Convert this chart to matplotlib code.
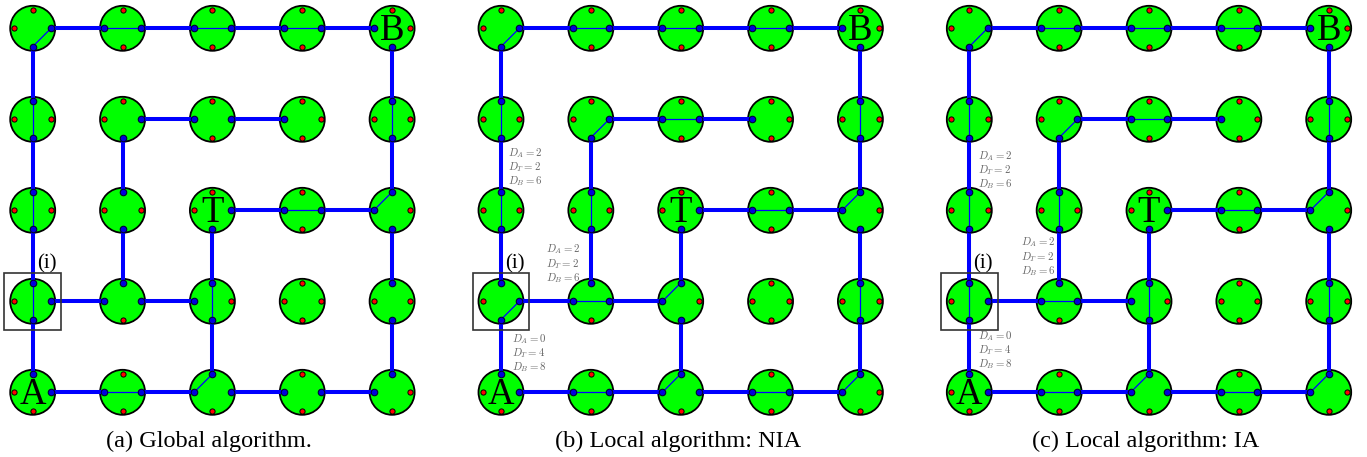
import matplotlib.pyplot as plt
import matplotlib.patches as mpatches

plt.rcParams['mathtext.fontset'] = 'cm'
serif = ['Liberation Serif', 'DejaVu Serif']

# links between neighbouring switches (same in all three panels)
h_links = [(0, 0), (1, 0), (2, 0), (3, 0), (1, 1), (2, 1), (2, 2), (3, 2),
           (0, 3), (1, 3), (0, 4), (1, 4), (2, 4), (3, 4)]          # (c,r) -> (c+1,r)
v_links = [(0, 0), (0, 1), (0, 2), (0, 3), (1, 1), (1, 2), (2, 2), (2, 3),
           (4, 0), (4, 1), (4, 2), (4, 3)]                          # (c,r) -> (c,r+1)

# internal switch settings, one list per panel: (col, row, port, port)
routes_global = [(0, 0, 'S', 'E'), (1, 0, 'W', 'E'), (2, 0, 'W', 'E'), (3, 0, 'W', 'E'),
                 (0, 1, 'N', 'S'), (4, 1, 'N', 'S'), (0, 2, 'N', 'S'), (3, 2, 'W', 'E'),
                 (4, 2, 'N', 'W'), (0, 3, 'N', 'S'), (2, 3, 'N', 'S'), (1, 4, 'W', 'E'),
                 (2, 4, 'W', 'N')]
routes_nia = [(0, 0, 'S', 'E'), (1, 0, 'W', 'E'), (2, 0, 'W', 'E'), (3, 0, 'W', 'E'),
              (0, 1, 'N', 'S'), (1, 1, 'S', 'E'), (2, 1, 'W', 'E'), (4, 1, 'N', 'S'),
              (0, 2, 'N', 'S'), (1, 2, 'N', 'S'), (3, 2, 'W', 'E'), (4, 2, 'N', 'W'),
              (0, 3, 'S', 'E'), (1, 3, 'W', 'E'), (2, 3, 'W', 'N'), (4, 3, 'N', 'S'),
              (1, 4, 'W', 'E'), (2, 4, 'W', 'N'), (3, 4, 'W', 'E'), (4, 4, 'W', 'N')]
routes_ia = [(0, 0, 'S', 'E'), (1, 0, 'W', 'E'), (2, 0, 'W', 'E'), (3, 0, 'W', 'E'),
             (0, 1, 'N', 'S'), (1, 1, 'S', 'E'), (2, 1, 'W', 'E'), (4, 1, 'N', 'S'),
             (0, 2, 'N', 'S'), (1, 2, 'N', 'S'), (3, 2, 'W', 'E'), (4, 2, 'N', 'W'),
             (0, 3, 'N', 'S'), (1, 3, 'W', 'E'), (2, 3, 'N', 'S'), (4, 3, 'N', 'S'),
             (1, 4, 'W', 'E'), (2, 4, 'W', 'N'), (3, 4, 'W', 'E'), (4, 4, 'W', 'N')]

node_letters = ["A", "B", "T"]
letter_nodes = [(0, 4), (4, 0), (2, 2)]
marked_node = (0, 3)

# distance labels (D_A, D_T, D_B) for panels b and c
dist_nia = [(2, 2, 6), (2, 2, 6), (0, 4, 8)]
dist_ia = [(2, 2, 6), (2, 2, 6), (0, 4, 8)]

captions = ["(a) Global algorithm.", "(b) Local algorithm: NIA", "(c) Local algorithm: IA"]

# layout (pixels)
panel_x0 = [32.7, 501.0, 969.3]
y0 = 28.3
dx, dy = 89.85, 91.0
R = 22.5
port = 18.3
off = {'N': (0, -port), 'S': (0, port), 'E': (port, 0), 'W': (-port, 0)}
dist_pos = [None,
            [(6.7, 153), (44.7, 249.5), (11.3, 339)],
            [(8.4, 156), (51.7, 242.5), (9.0, 336)]]

fig = plt.figure(figsize=(13.67, 4.57), dpi=100)
ax = fig.add_axes([0, 0, 1, 1])
ax.set_xlim(0, 1367)
ax.set_ylim(457, 0)
ax.axis('off')


def node_xy(p, c, r):
    return panel_x0[p] + c * dx, y0 + r * dy


def port_xy(p, c, r, d):
    x, y = node_xy(p, c, r)
    return x + off[d][0], y + off[d][1]


all_routes = [routes_global, routes_nia, routes_ia]
all_dist = [None, dist_nia, dist_ia]

for p in range(3):
    used = set()
    for c, r in h_links:
        used.add((c, r, 'E'))
        used.add((c + 1, r, 'W'))
    for c, r in v_links:
        used.add((c, r, 'S'))
        used.add((c, r + 1, 'N'))

    # switches
    for c in range(5):
        for r in range(5):
            x, y = node_xy(p, c, r)
            ax.add_patch(mpatches.Circle((x, y), R, facecolor="#00ff00",
                                         edgecolor="black", linewidth=1.3, zorder=1))

    # thin internal routes
    for c, r, a, b in all_routes[p]:
        xa, ya = port_xy(p, c, r, a)
        xb, yb = port_xy(p, c, r, b)
        ax.plot([xa, xb], [ya, yb], color="blue", linewidth=0.9, zorder=2)

    # thick links
    for c, r in h_links:
        xa, ya = port_xy(p, c, r, 'E')
        xb, yb = port_xy(p, c + 1, r, 'W')
        ax.plot([xa, xb], [ya, yb], color="blue", linewidth=2.9, zorder=3,
                solid_capstyle='butt')
    for c, r in v_links:
        xa, ya = port_xy(p, c, r, 'S')
        xb, yb = port_xy(p, c, r + 1, 'N')
        ax.plot([xa, xb], [ya, yb], color="blue", linewidth=2.9, zorder=3,
                solid_capstyle='butt')

    # ports
    bx, by, rx, ry = [], [], [], []
    for c in range(5):
        for r in range(5):
            for d in "NESW":
                x, y = port_xy(p, c, r, d)
                if (c, r, d) in used:
                    bx.append(x)
                    by.append(y)
                else:
                    rx.append(x)
                    ry.append(y)
    ax.scatter(bx, by, s=22, color="#0000dd", edgecolors="#000033", linewidths=0.8, zorder=4)
    ax.scatter(rx, ry, s=14, color="red", edgecolors="black", linewidths=0.7, zorder=4)

    # A, B, T
    for name, (c, r) in zip(node_letters, letter_nodes):
        x, y = node_xy(p, c, r)
        ax.text(x, y + 12, name, family=serif, fontsize=26.5, ha='center',
                va='baseline', zorder=5)

    # box around node (i)
    x, y = node_xy(p, *marked_node)
    ax.add_patch(mpatches.Rectangle((x - 28.3, y - 28.3), 56.6, 56.6, fill=False,
                                    edgecolor="#333333", linewidth=1.2, zorder=5))
    ax.text(x + 14, y - 37.5, "(i)", family=serif, fontsize=15, ha='center',
            va='center', zorder=5)

    # distance labels
    if all_dist[p] is not None:
        for (da, dt, db), (ox, oy) in zip(all_dist[p], dist_pos[p]):
            x = panel_x0[p] + ox
            for k, (nm, v) in enumerate(zip("ATB", (da, dt, db))):
                ax.text(x, oy + 14.2 * k, "$D_%s = %d$" % (nm, v), fontsize=7.8,
                        color="#666666", ha='left', va='center', zorder=5)

    # caption
    ax.text(panel_x0[p] + 2 * dx - 3, 441, captions[p], family=serif, fontsize=17.5,
            ha='center', va='center')

fig.savefig("out.png", dpi=100)
